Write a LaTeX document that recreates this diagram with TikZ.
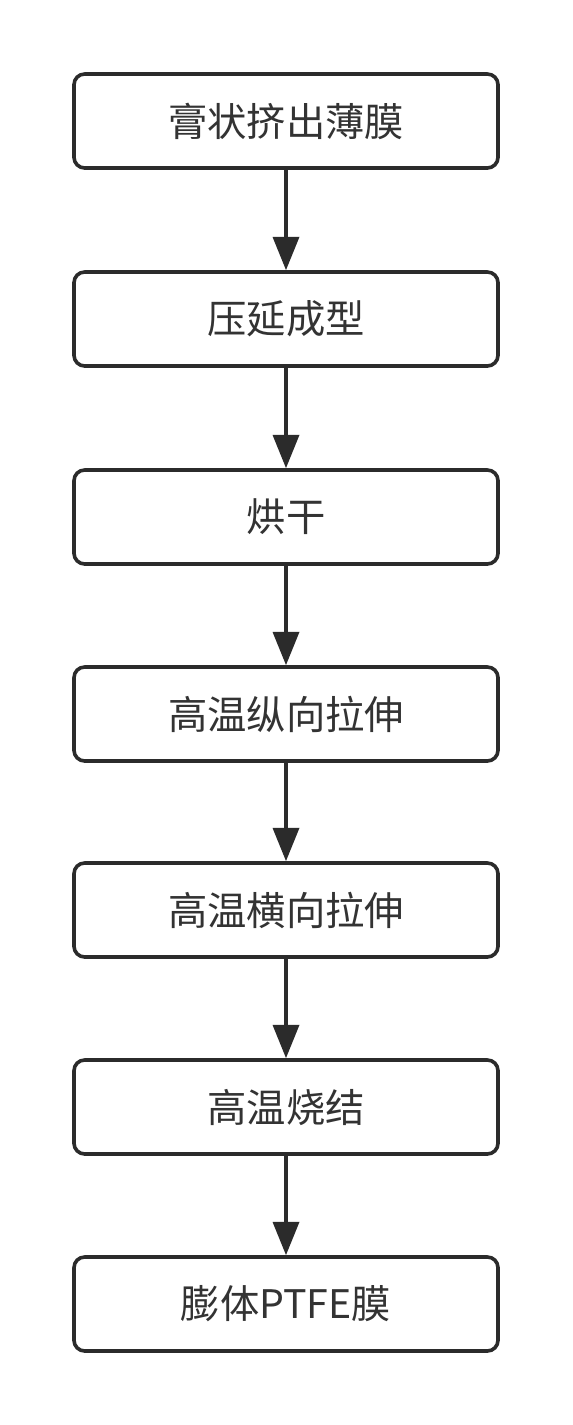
\documentclass[tikz,border=0pt]{standalone}
\usepackage{fontspec}
\setmainfont{Noto Sans CJK SC}
\usetikzlibrary{arrows.meta}
\definecolor{ink}{HTML}{2B2B2B}
\definecolor{txt}{HTML}{333333}
\tikzset{
  stepbox/.style={draw=ink, line width=2.7pt, rounded corners=8pt, fill=white,
    minimum width=318pt, minimum height=70.5pt, inner sep=0pt,
    font=\fontsize{29.5pt}{32pt}\selectfont, text=txt},
  flow/.style={draw=ink, line width=2.7pt, -{Triangle[length=25pt,width=19.5pt]}}
}
\begin{document}
\begin{tikzpicture}[x=0.75pt,y=-0.75pt]
\useasboundingbox[fill=white] (0,0) rectangle (573,1425);
\node[stepbox] (n1) at (286,121) {\raisebox{-2pt}{膏状挤出薄膜}};
\node[stepbox] (n2) at (286,319) {\raisebox{-2pt}{压延成型}};
\node[stepbox] (n3) at (286,517) {\raisebox{-2pt}{烘干}};
\node[stepbox] (n4) at (286,714) {\raisebox{-2pt}{高温纵向拉伸}};
\node[stepbox] (n5) at (286,910) {\raisebox{-2pt}{高温横向拉伸}};
\node[stepbox] (n6) at (286,1107) {\raisebox{-2pt}{高温烧结}};
\node[stepbox] (n7) at (286,1304) {\raisebox{-2pt}{膨体PTFE膜}};
\foreach \a/\b in {n1/n2,n2/n3,n3/n4,n4/n5,n5/n6,n6/n7}
  \draw[flow] (\a.south) -- (\b.north);
\end{tikzpicture}
\end{document}
